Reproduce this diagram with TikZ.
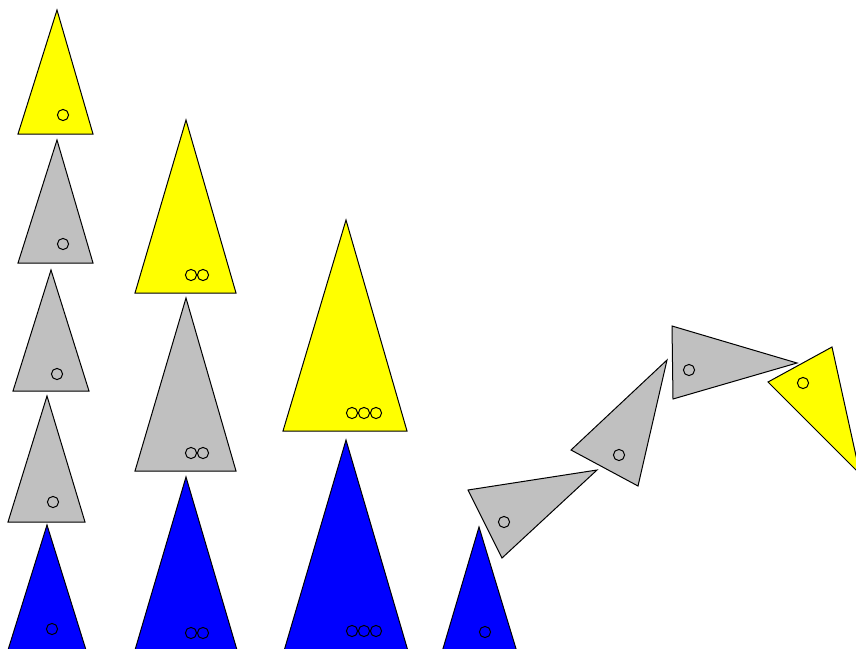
\documentclass[tikz,border=0pt]{standalone}
\definecolor{ty}{HTML}{FFFF00}
\definecolor{tg}{HTML}{C0C0C0}
\definecolor{tb}{HTML}{0000FF}
\begin{document}
\begin{tikzpicture}[x=1pt,y=-1pt,
  tri/.style={draw=black,line width=1pt,line join=miter},
  dot/.style={draw=black,line width=1pt}]
\useasboundingbox (0,0) rectangle (856,648);
\clip (0,0) rectangle (856,648);
% column 1
\draw[tri,fill=ty] (57,10) -- (18,134) -- (93,134) -- cycle;
\draw[tri,fill=tg] (57,140) -- (18,263) -- (93,263) -- cycle;
\draw[tri,fill=tg] (51,270) -- (13,391) -- (89,391) -- cycle;
\draw[tri,fill=tg] (47,396) -- (8,522) -- (85,522) -- cycle;
\draw[tri,fill=tb] (47,525) -- (8,650) -- (86,650) -- cycle;
% column 2
\draw[tri,fill=ty] (186,120) -- (135,293) -- (236,293) -- cycle;
\draw[tri,fill=tg] (186,298) -- (135,471) -- (236,471) -- cycle;
\draw[tri,fill=tb] (186,477) -- (135,650) -- (237,650) -- cycle;
% column 3
\draw[tri,fill=ty] (346,220) -- (283,431) -- (407,431) -- cycle;
\draw[tri,fill=tb] (346,440) -- (284,651) -- (408,651) -- cycle;
% column 4
\draw[tri,fill=tb] (479,527) -- (442,652) -- (517,652) -- cycle;
% rotated chain
\draw[tri,fill=tg] (597,470) -- (468,490) -- (502,558) -- cycle;
\draw[tri,fill=tg] (667,360) -- (571,450) -- (638,486) -- cycle;
\draw[tri,fill=tg] (797,363) -- (672,326) -- (673,399) -- cycle;
\draw[tri,fill=ty] (860,474) -- (768,382) -- (832,347) -- cycle;
% marks
\foreach \p in {(63,115),(63,244),(57,374),(53,502),(52,629),
  (191,275),(203,275),(191,453),(203,453),(191,633),(203,633),
  (352,413),(364,413),(376,413),(352,631),(364,631),(376,631),
  (485,632),(504,522),(619,455),(689,370),(803,383)}
  \draw[dot] \p circle[radius=5.6];
\end{tikzpicture}
\end{document}
